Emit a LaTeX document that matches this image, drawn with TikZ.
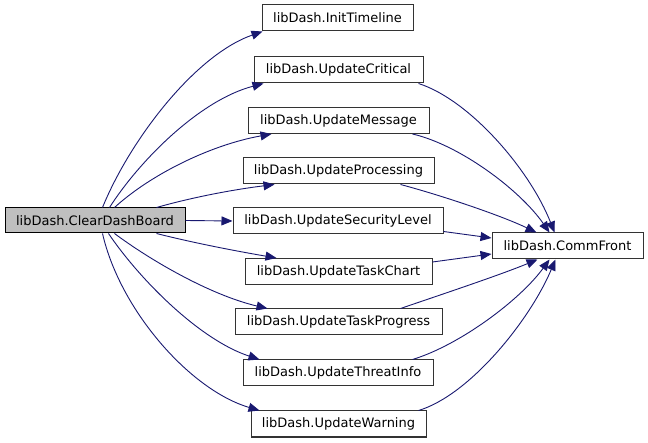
\documentclass[tikz,border=0pt]{standalone}
\usepackage{fontspec}
\setmainfont{DejaVu Sans}
\usetikzlibrary{arrows.meta}
\definecolor{edgeblue}{HTML}{191970}
\definecolor{rootfill}{HTML}{BFBFBF}
\tikzset{
  fnbox/.style={draw=black!80, line width=1pt, fill=white, inner sep=0pt, minimum height=26pt, font=\fontsize{13}{15}\selectfont},
  rootbox/.style={fnbox, draw=black, fill=rootfill},
  calledge/.style={draw=edgeblue, line width=0.9pt, -{Triangle[length=11pt,width=9pt]}, fill=none},
}
\begin{document}
\begin{tikzpicture}[x=1pt,y=-1pt]
\useasboundingbox (0,0) rectangle (648,443);
\node[rootbox, minimum width=180pt, minimum height=25pt] (cdb) at (95,220.5) {libDash.ClearDashBoard};
\node[fnbox, minimum width=151pt] (it) at (337.5,18) {libDash.InitTimeline};
\node[fnbox, minimum width=169pt] (uc) at (338.5,70) {libDash.UpdateCritical};
\node[fnbox, minimum width=181pt] (um) at (338.5,120.5) {libDash.UpdateMessage};
\node[fnbox, minimum width=191pt] (up) at (338.5,171) {libDash.UpdateProcessing};
\node[fnbox, minimum width=210pt] (us) at (338,221) {libDash.UpdateSecurityLevel};
\node[fnbox, minimum width=187pt] (tc) at (338.5,271.5) {libDash.UpdateTaskChart};
\node[fnbox, minimum width=207pt] (tp) at (338.5,322) {libDash.UpdateTaskProgress};
\node[fnbox, minimum width=190pt] (ti) at (338,373) {libDash.UpdateThreatInfo};
\node[fnbox, minimum width=175pt] (uw) at (338.5,424) {libDash.UpdateWarning};
\node[fnbox, minimum width=151pt] (cf) at (567.5,246) {libDash.CommFront};

% ClearDashBoard -> callees
\draw[calledge] ([xshift=98pt]cdb.north west) .. controls (130,140) and (195,55) .. ([xshift=1pt]it.south west);
\draw[calledge] ([xshift=105pt]cdb.north west) .. controls (140,160) and (200,100) .. ([xshift=10pt]uc.south west);
\draw[calledge] ([xshift=110pt]cdb.north west) .. controls (150,175) and (210,145) .. ([xshift=24pt]um.south west);
\draw[calledge] ([xshift=152pt]cdb.north west) .. controls (190,198) and (230,190) .. ([xshift=32pt]up.south west);
\draw[calledge] (cdb.east) -- (us.west);
\draw[calledge] ([xshift=152pt]cdb.south west) .. controls (190,242) and (230,250) .. ([xshift=32pt]tc.north west);
\draw[calledge] ([xshift=110pt]cdb.south west) .. controls (150,260) and (210,295) .. ([xshift=33pt]tp.north west);
\draw[calledge] ([xshift=104pt]cdb.south west) .. controls (140,280) and (200,340) .. ([xshift=17pt]ti.north west);
\draw[calledge] ([xshift=98pt]cdb.south west) .. controls (120,310) and (190,390) .. ([xshift=9pt]uw.north west);

% callees -> CommFront
\draw[calledge] ([xshift=-5pt]uc.south east) .. controls (470,100) and (530,170) .. ([xshift=63pt]cf.north west);
\draw[calledge] ([xshift=-17pt]um.south east) .. controls (460,145) and (520,190) .. ([xshift=58pt]cf.north west);
\draw[calledge] ([xshift=-34pt]up.south east) .. controls (440,195) and (500,215) .. ([xshift=45pt]cf.north west);
\draw[calledge] ([yshift=3pt]us.south east) -- ([yshift=8pt]cf.west);
\draw[calledge] ([yshift=9.5pt]tc.east) -- ([yshift=-8pt]cf.west);
\draw[calledge] ([xshift=-42pt]tp.north east) .. controls (440,295) and (500,275) .. ([xshift=46pt]cf.south west);
\draw[calledge] ([xshift=-21pt]ti.north east) .. controls (460,345) and (520,300) .. ([xshift=58pt]cf.south west);
\draw[calledge] ([xshift=-8pt]uw.north east) .. controls (470,395) and (530,320) .. ([xshift=64pt]cf.south west);
\end{tikzpicture}
\end{document}
